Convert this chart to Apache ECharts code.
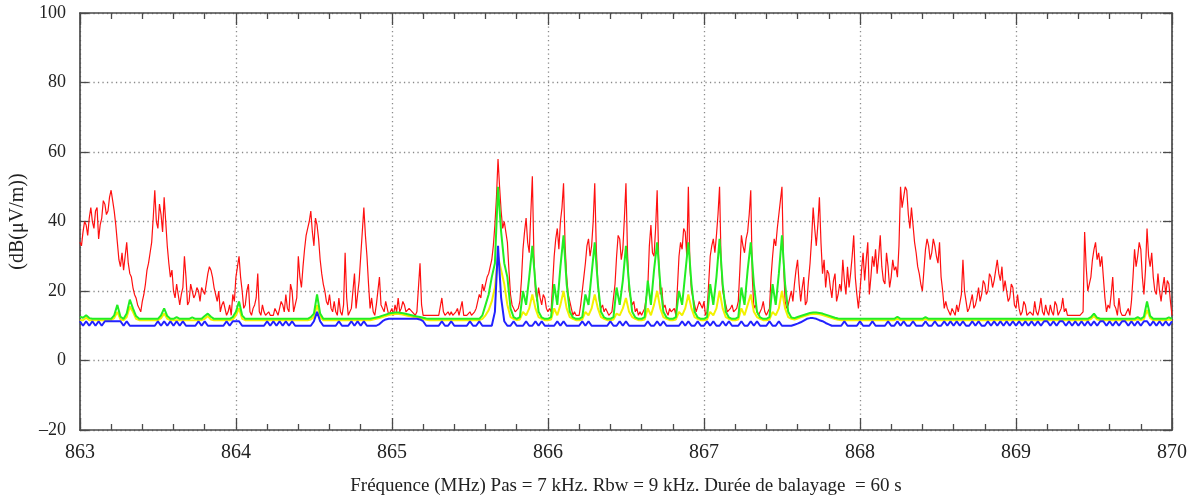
<!DOCTYPE html>
<html>
<head>
<meta charset="utf-8">
<script src="https://cdn.jsdelivr.net/npm/echarts@6/dist/echarts.min.js"></script>
<style>
  html, body { margin: 0; padding: 0; background: #fff; }
  #chart { width: 1192px; height: 501px; }
</style>
</head>
<body>
<div id="chart"></div>
<script>
// Sweep 863–870 MHz. Max hold read every 0.01 MHz, the other traces every 0.02 MHz.
const FREQ_START = 863;
const MAX_STEP = 0.01;
const TRACE_STEP = 0.02;

const xTicks = [863, 864, 865, 866, 867, 868, 869, 870];
const yTicks = [-20, 0, 20, 40, 60, 80, 100];

// Max hold (red), 701 readings
const maxHold = [
  34,33,37,40,39,36,41,44,40,38, 43,44,35,39,41,46,45,42,43,47,
  49,46,43,39,34,29,27,31,26,30, 34,28,25,24,21,19,18,16,15,14,
  17,19,22,26,28,31,34,41,49,40, 38,45,42,37,47,40,33,28,24,26,
  20,18,22,19,16,19,21,30,24,16, 17,22,20,18,19,21,20,17,21,20,
  19,22,25,27,26,24,21,19,17,20, 14,16,17,15,13,14,16,13,19,17,
  24,27,30,24,20,15,16,20,22,14, 13,15,16,18,25,14,13,16,14,13,
  13,14,13,13,13,15,14,13,13,17, 16,14,19,15,14,22,20,14,16,18,
  30,24,21,27,32,36,38,40,43,37, 33,41,39,35,29,25,22,20,17,16,
  19,15,14,17,14,13,18,14,13,16, 31,18,13,14,15,20,25,15,19,23,
  30,37,44,36,30,22,15,18,14,13, 16,20,24,16,15,14,17,15,13,14,
  15,13,16,14,18,14,15,17,16,14, 14,15,15,14,14,13,14,14,28,16,
  13,13,13,13,13,13,13,13,13,13, 13,13,18,14,13,13,14,13,14,13,
  13,14,15,13,15,17,13,13,13,13, 14,13,13,14,15,17,19,18,22,20,
  22,24,25,27,29,33,39,47,58,50, 43,38,40,37,34,26,19,16,15,14,
  14,15,17,23,32,37,41,34,31,42, 53,30,20,17,21,18,16,19,18,15,
  14,15,14,22,30,35,38,32,40,44, 51,33,24,19,17,15,13,14,13,13,
  13,16,20,24,28,33,35,30,33,40, 51,32,22,17,15,16,14,15,14,13,
  13,14,14,22,30,36,35,29,32,41, 51,31,20,18,16,17,14,15,13,14,
  13,14,15,18,21,33,39,31,30,38, 49,29,19,21,15,16,14,13,15,14,
  14,15,13,21,30,34,32,38,37,30, 50,27,20,18,16,14,14,17,16,15,
  17,13,14,22,30,33,35,31,36,42, 50,28,20,18,16,14,14,15,16,14,
  14,15,17,26,36,33,31,35,37,42, 49,24,15,16,14,13,14,15,17,14,
  13,14,15,24,30,35,33,38,42,46, 50,28,17,15,16,18,20,17,22,26,
  29,22,17,21,24,16,17,23,28,35, 44,38,33,39,47,34,25,29,21,26,
  25,21,18,23,25,17,19,22,20,29, 23,19,27,21,25,30,36,24,19,15,
  20,26,31,23,29,34,19,24,30,27, 32,25,30,36,27,23,22,31,27,21,
  24,29,26,27,24,33,50,44,47,50, 49,42,38,44,39,34,31,27,25,22,
  20,26,32,35,33,29,31,35,33,30, 28,34,24,20,15,17,15,14,13,15,
  15,13,16,14,14,19,29,20,17,14, 15,17,19,15,16,18,21,17,19,23,
  22,19,20,25,24,21,23,26,29,25, 23,27,20,23,20,17,18,22,21,16,
  15,19,15,13,14,17,16,13,13,14, 14,13,17,14,13,15,18,14,13,16,
  14,13,16,14,13,17,16,13,13,15, 18,14,15,13,13,13,13,13,13,13,
  13,13,13,14,37,27,20,22,24,29, 32,34,29,31,27,30,24,18,14,16,
  15,19,24,16,15,13,18,14,13,13, 13,14,15,13,17,24,32,27,30,34,
  32,24,19,26,38,30,27,31,24,20, 19,25,20,17,21,24,19,23,22,17,
  13
];

// Green trace
const greenTrace = [
  12.6,12.3,13,12.2,12,12,12,12,12,12, 12,13,16,12.6,12,13.5,17.5,15,12.8,12,
  12,12,12,12,12,12,13,15,12.8,12, 12,12.5,12,12,12,12,12.4,12,12,12,
  12.8,13.5,12.6,12,12,12,12,12,12,12.5, 14,17,13,12,12,12,12,12,12,12,
  12,12,12,12,12,12,12,12,12,12, 12,12,12,12,12.5,13.5,19,13.5,12,12,
  12,12,12,12,12,12,12,12,12,12, 12,12,12,12,12.2,12.4,12.6,12.9,13.2,13.5,
  13.7,13.8,13.8,13.7,13.5,13.3,13.1,12.9,12.7,12.5, 12.3,12.1,12,12,12,12,12,12,12,12,
  12,12,12,12,12,12,12,12,12,13, 16,19,24,28,50,37,28,24,15,12.5,
  12,12.5,20,16,24,33,22,14,12.4,12, 12,12.5,22,16,27,36,22,14,12.4,12,
  12,12.5,19,16,25,34,22,14,12.4,12, 12,12.5,21,16,23,33,22,14,12.4,12,
  12,12.5,23,16,26,34,22,14,12.4,12, 12,12.5,20,16,25,34,22,14,12.4,12,
  12,12.5,22,16,24,35,22,14,12.4,12, 12,12.5,21,16,26,34,22,14,12.4,12,
  12,12.5,22,16,25,36,22,14,12.4,12.2, 12.5,12.8,13.1,13.4,13.7,13.8,13.8,13.7,13.5,13.2,
  12.9,12.6,12.3,12.1,12,12,12,12,12,12, 12,12,12,12,12,12,12,12,12,12,
  12,12,12.6,12,12,12,12,12,12,12, 12,12.5,12,12,12,12,12,12,12,12,
  12,12,12,12,12,12,12,12,12,12, 12,12,12,12,12,12,12,12,12,12,
  12,12,12,12,12,12,12,12,12,12, 12,12,12,12,12,12,12,12,12,12,
  12,12,12,12,12.5,13.5,12.3,12,12,12, 12,12,12,12,12,12,12,12,12,12.5,
  12,12.6,17,12.8,12,12,12,12,12,12.4, 12
];

// Yellow trace
const yellowTrace = [
  11.6,11.6,12.3,11.6,11.6,11.6,11.6,11.6,11.6,11.6, 11.6,12.2,14,11.8,11.6,12.5,15.5,14,12,11.6,
  11.6,11.6,11.6,11.6,11.6,11.6,12.2,13.5,12,11.6, 11.6,11.6,11.6,11.6,11.6,11.6,11.6,11.6,11.6,11.6,
  12,12.8,11.8,11.6,11.6,11.6,11.6,11.6,11.6,11.8, 13,15,12,11.6,11.6,11.6,11.6,11.6,11.6,11.6,
  11.6,11.6,11.6,11.6,11.6,11.6,11.6,11.6,11.6,11.6, 11.6,11.6,11.6,11.6,11.8,12.5,16,12.5,11.6,11.6,
  11.6,11.6,11.6,11.6,11.6,11.6,11.6,11.6,11.6,11.6, 11.6,11.6,11.6,11.6,11.8,12,12.2,12.5,12.8,13.1,
  13.3,13.4,13.4,13.3,13.1,12.9,12.7,12.5,12.3,12.1, 11.9,11.7,11.6,11.6,11.6,11.6,11.6,11.6,11.6,11.6,
  11.6,11.6,11.6,11.6,11.6,11.6,11.6,11.6,11.6,12, 13,14.5,17,21,30,26,22,16,12.5,12,
  11.6,11.8,14,13,15,19,15,12.5,12,11.6, 11.6,11.8,15,13,16,20,15,12.5,12,11.6,
  11.6,11.8,14,13,15,19,15,12.5,12,11.6, 11.6,11.8,13.5,13,15,18,14,12.5,12,11.6,
  11.6,11.8,15,13,16,20,15,12.5,12,11.6, 11.6,11.8,14,13,15,19,15,12.5,12,11.6,
  11.6,11.8,14,13,15,20,15,12.5,12,11.6, 11.6,11.8,15,13,16,19,14,12.5,12,11.6,
  11.6,11.8,14,13,15,20,15,12.5,12,11.8, 12.1,12.4,12.7,13,13.3,13.4,13.4,13.3,13.1,12.8,
  12.5,12.2,11.9,11.7,11.6,11.6,11.6,11.6,11.6,11.6, 11.6,11.6,11.6,11.6,11.6,11.6,11.6,11.6,11.6,11.6,
  11.6,11.6,12,11.6,11.6,11.6,11.6,11.6,11.6,11.6, 11.6,11.9,11.6,11.6,11.6,11.6,11.6,11.6,11.6,11.6,
  11.6,11.6,11.6,11.6,11.6,11.6,11.6,11.6,11.6,11.6, 11.6,11.6,11.6,11.6,11.6,11.6,11.6,11.6,11.6,11.6,
  11.6,11.6,11.6,11.6,11.6,11.6,11.6,11.6,11.6,11.6, 11.6,11.6,11.6,11.6,11.6,11.6,11.6,11.6,11.6,11.6,
  11.6,11.6,11.6,11.6,11.9,12.8,11.8,11.6,11.6,11.6, 11.6,11.6,11.6,11.6,11.6,11.6,11.6,11.6,11.6,11.9,
  11.6,11.9,14.5,12.2,11.6,11.6,11.6,11.6,11.6,11.8, 11.6
];

// Blue trace
const blueTrace = [
  11.3,10,11.3,10,11.3,10,11.3,10,11.3,11.3, 11.3,11.3,11.3,11.3,10,11.3,10,10,10,10,
  10,10,10,10,10,11.3,10,11.3,10,11.3, 10,11.3,10,11.3,10,10,10,10,11.3,10,
  11.3,10,10,10,10,10,10,11.3,10,11.3, 11.3,11.3,10,10,10,10,10,10,10,10,
  11.3,10,11.3,10,11.3,10,11.3,10,11.3,10, 10,10,10,10,10,11.3,14,11.3,10,10,
  10,10,10,11.3,10,10,10,11.3,10,11.3, 10,11.3,10,10,10,10,10.5,11.3,11.8,12,
  12,12,12,12,12,12,12,12,12,11.8, 11.3,10,10,10,10,10,11.3,10,10,11.3,
  10,10,10,10,10,11.3,10,10,11.3,10, 10,10,10,14,33,18,11.3,10,10,11.3,
  10,10,10,11.3,10,10,11.3,10,11.3,10, 10,10,10,11.3,10,11.3,10,10,10,10,
  10,11.3,10,11.3,10,10,10,10,10,10, 11.3,10,10,11.3,10,11.3,10,10,10,10,
  10,10,11.3,10,10,11.3,10,11.3,10,10, 10,10,10,11.3,10,11.3,10,10,11.3,10,
  10,11.3,10,11.3,10,10,11.3,10,11.3,10, 10,10,11.3,10,10,11.3,10,11.3,10,10,
  10,11.3,10,10,11.3,10,10,10,10,10.3, 10.6,11,11.5,12,12.2,12.2,12,11.6,11.3,10.8,
  10.4,10,10,10,10,11.3,10,10,10,10, 11.3,10,10,10,11.3,10,10,10,10,11.3,
  10,10,11.3,10,11.3,10,10,11.3,10,10, 10,11.3,10,10,11.3,10,10,11.3,10,11.3,
  10,11.3,10,11.3,10,10,11.3,10,11.3,10, 10,11.3,10,11.3,10,11.3,10,11.3,10,11.3,
  10,11.3,10,11.3,10,11.3,10,11.3,10,11.3, 11.3,10,11.3,10,11.3,11.3,10,11.3,10,11.3,
  10,11.3,10,11.3,10,11.3,10,11.3,11.3,10, 11.3,10,11.3,10,11.3,11.3,10,11.3,10,11.3,
  10,11.3,11.3,10,11.3,10,11.3,10,11.3,10, 11.3
];

const toPoints = (arr, step) => arr.map((v, i) => [+(FREQ_START + i * step).toFixed(3), v]);

const serif = '"Liberation Serif", "DejaVu Serif", serif';
const frameColor = '#4a4a4a';
const gridDots = { color: '#8a8a8a', width: 1.3, type: [1.3, 3.2] };

const chart = echarts.init(document.getElementById('chart'), null, { renderer: 'canvas' });

function xAxisCfg(pos, withLabels) {
  return {
    type: 'value', position: pos, min: xTicks[0], max: xTicks[xTicks.length - 1], interval: 1,
    axisLine: { show: true, onZero: false, lineStyle: { color: frameColor, width: 1.7 } },
    axisTick: { show: true, inside: true, length: 12, lineStyle: { color: frameColor, width: 1.3 } },
    minorTick: { show: true, splitNumber: 5, length: 6, lineStyle: { color: frameColor, width: 1.3 } },
    splitLine: { show: withLabels, lineStyle: gridDots },
    axisLabel: withLabels ? { show: true, color: '#222', fontFamily: serif, fontSize: 20, margin: 13 } : { show: false },
    name: withLabels ? 'Fréquence (MHz) Pas = 7 kHz. Rbw = 9 kHz. Durée de balayage  = 60 s' : '',
    nameLocation: 'middle', nameGap: 47,
    nameTextStyle: { color: '#222', fontFamily: serif, fontSize: 19 }
  };
}

function yAxisCfg(pos, withLabels) {
  return {
    type: 'value', position: pos, min: yTicks[0], max: yTicks[yTicks.length - 1], interval: 20,
    axisLine: { show: true, onZero: false, lineStyle: { color: frameColor, width: 1.7 } },
    axisTick: { show: true, inside: true, length: 9, lineStyle: { color: frameColor, width: 1.3 } },
    splitLine: { show: withLabels, lineStyle: gridDots },
    axisLabel: withLabels ? {
      show: true, color: '#222', fontFamily: serif, fontSize: 18, margin: 14,
      formatter: v => String(v).replace('-', '\u2013')
    } : { show: false },
    name: withLabels ? '(dB(\u03bcV/m))' : '',
    nameLocation: 'middle', nameGap: 48, nameRotate: 90,
    nameTextStyle: { color: '#222', fontFamily: serif, fontSize: 20 }
  };
}

function trace(name, arr, step, color, width) {
  return {
    name, type: 'line', data: toPoints(arr, step), showSymbol: false, symbol: 'none',
    xAxisIndex: 0, yAxisIndex: 0,
    lineStyle: { color, width }, itemStyle: { color }, silent: true
  };
}

chart.setOption({
  animation: false,
  backgroundColor: '#fff',
  grid: { left: 78, right: 20, top: 13, bottom: 68 },
  xAxis: [xAxisCfg('bottom', true), xAxisCfg('top', false)],
  yAxis: [yAxisCfg('left', true), yAxisCfg('right', false)],
  series: [
    trace('Max', maxHold, MAX_STEP, '#ff1010', 1.2),
    trace('Jaune', yellowTrace, TRACE_STEP, '#f2f200', 2),
    trace('Vert', greenTrace, TRACE_STEP, '#22ee22', 2),
    trace('Bleu', blueTrace, TRACE_STEP, '#2222ff', 2)
  ]
});
</script>
</body>
</html>
